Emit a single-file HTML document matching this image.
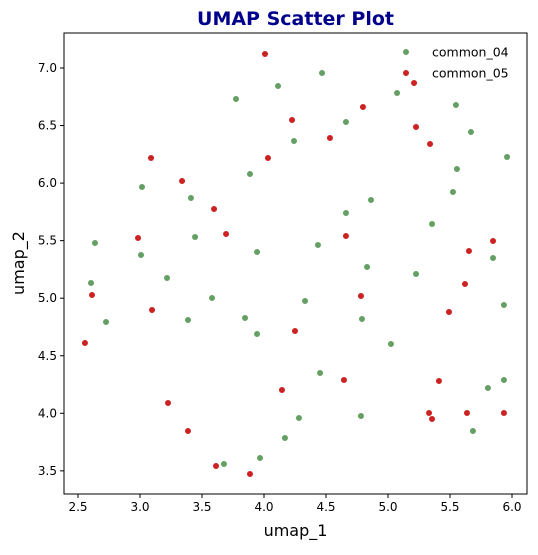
<!DOCTYPE html>
<html><head><meta charset="utf-8"><style>
body{margin:0;background:#fff;}
svg text{font-family:"DejaVu Sans","Liberation Sans",sans-serif;}
</style></head><body>
<svg id="chart" width="538" height="550" xmlns="http://www.w3.org/2000/svg"></svg>
<script>
const xTicks=[2.5,3.0,3.5,4.0,4.5,5.0,5.5,6.0];
const yTicks=[3.5,4.0,4.5,5.0,5.5,6.0,6.5,7.0];
const seriesNames=["common_04","common_05"];
const g04x=[4.113,3.774,4.242,3.887,3.016,3.411,3.444,2.637,3.008,3.944,2.605,3.218,3.581,2.726,3.387,3.847,3.944,4.282,4.169,3.968,3.677,4.468,5.073,4.661,5.548,5.669,5.960,5.556,5.524,4.863,4.661,5.355,4.435,5.847,4.831,5.226,4.331,4.790,5.024,5.935,4.452,4.782,5.806,5.935,5.685];
const g04y=[6.844,6.731,6.366,6.079,5.966,5.871,5.532,5.480,5.375,5.401,5.132,5.176,5.002,4.793,4.811,4.828,4.689,3.959,3.785,3.612,3.560,6.957,6.783,6.531,6.679,6.444,6.227,6.123,5.923,5.853,5.740,5.645,5.462,5.349,5.271,5.210,4.976,4.819,4.602,4.941,4.350,3.977,4.220,4.289,3.846];
const g05x=[4.008,4.226,3.089,4.032,3.339,3.597,2.984,3.694,5.210,4.798,5.226,4.532,5.339,4.661,5.847,5.653,2.613,3.097,2.556,4.250,4.145,3.226,3.387,3.613,3.887,5.621,4.782,5.492,4.645,5.411,5.331,5.355,5.637,5.935];
const g05y=[7.122,6.548,6.218,6.218,6.018,5.775,5.523,5.558,6.870,6.661,6.487,6.392,6.340,5.540,5.497,5.410,5.028,4.897,4.611,4.715,4.202,4.089,3.846,3.542,3.473,5.123,5.019,4.880,4.289,4.281,4.003,3.950,4.003,4.003];

const NS="http://www.w3.org/2000/svg";
const svg=document.getElementById('chart');
const L=64,R=527,T=33,B=494;
const sx=v=>78+(v-2.5)*124;
const sy=v=>68+(7-v)*115.1;
function mk(tag,attrs,parent){const e=document.createElementNS(NS,tag);for(const k in attrs)e.setAttribute(k,attrs[k]);(parent||svg).appendChild(e);return e;}

const title=mk('text',{x:295.5,y:25,'text-anchor':'middle','font-size':'19','font-weight':'bold',fill:'#00008b'});
title.textContent='UMAP Scatter Plot';



const pts=mk('g',{});


function drawSeries(xs,ys,color,name){
  for(let i=0;i<xs.length;i++){
    const c=mk('circle',{cx:sx(xs[i]),cy:sy(ys[i]),r:3.4,fill:color,stroke:'#fff','stroke-width':0.8},pts);
    
    
  }
}
drawSeries(g04x,g04y,'#64a064','common-04');
drawSeries(g05x,g05y,'#cc2222','common-05');

const frame=mk('rect',{x:L,y:T,width:R-L,height:B-T,fill:'none',stroke:'#000','stroke-width':1});



xTicks.forEach(t=>{
  const x=sx(t);
  const ln=mk('line',{x1:x,x2:x,y1:B,y2:B+4,stroke:'#000'});
  
  
  const tx=mk('text',{x:x,y:B+17,'text-anchor':'middle','font-size':'12',fill:'#000'});
  tx.textContent=t.toFixed(1);
  
  
});
yTicks.forEach(t=>{
  const y=sy(t);
  const ln=mk('line',{x1:L-4,x2:L,y1:y,y2:y,stroke:'#000'});
  
  
  const tx=mk('text',{x:L-7,y:y+4,'text-anchor':'end','font-size':'12',fill:'#000'});
  tx.textContent=t.toFixed(1);
  
  
});
const xl=mk('text',{x:295.5,y:536,'text-anchor':'middle','font-size':'16',fill:'#000'});
xl.textContent='umap_1';


const yl=mk('text',{x:24,y:263,'text-anchor':'middle','font-size':'16',fill:'#000',transform:'rotate(-90 24 263)'});
yl.textContent='umap_2';



const leg=mk('g',{});


const legColors=['#64a064','#cc2222'];
seriesNames.forEach((n,i)=>{
  const y=52+i*21;
  const c=mk('circle',{cx:406,cy:y,r:3.4,fill:legColors[i],stroke:'#fff','stroke-width':0.8},leg);
  
  
  const t=mk('text',{x:432,y:y+4.5,'font-size':'12.5',fill:'#000'},leg);
  t.textContent=n;
  
  
});
</script>
</body></html>
